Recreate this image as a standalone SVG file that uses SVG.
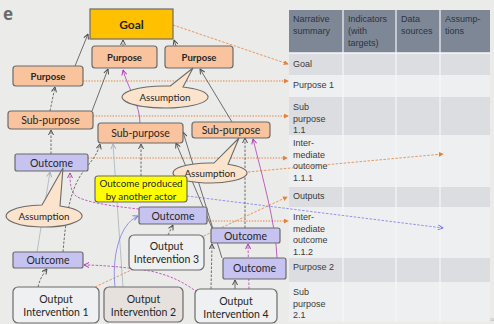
<svg xmlns="http://www.w3.org/2000/svg" width="494" height="324" viewBox="0 0 494 324">
  <defs>
    <style>
      .box { stroke: #6b6b6b; stroke-width: 1.2; }
      .goal { fill: #ffc000; }
      .peach { fill: #f9c39d; }
      .lav { fill: #c6c3f1; }
      .out { fill: #eef0f2; }
      .out2 { fill: #e6e1dd; }
      .yel { fill: #ffff00; }
      .asm { fill: #fce3cb; stroke: #6b6b6b; stroke-width: 1.1; }
      .lbl { font-family: Lato, "Open Sans", "Liberation Sans", sans-serif; fill: #262626; text-anchor: middle; }
      .b { font-weight: bold; }
      .tbl { font-family: "Liberation Sans", Arial, sans-serif; font-size: 9px; fill: #3a3a3a; }
      .th { fill: #2e3440; }
      .c { fill: none; stroke-width: 0.8; }
      .dk { stroke: #4d4d4d; marker-end: url(#ad); }
      .lg { stroke: #aab2ba; marker-end: url(#ag); }
      .mg { stroke: #b33db3; marker-end: url(#am); }
      .bl { stroke: #7a7aee; marker-end: url(#ab); }
      .or { stroke: #e8803a; marker-end: url(#ao); }
      .dash { stroke-dasharray: 2.5 1.5; }
      .dot { stroke-dasharray: 1.4 1.4; stroke-width: 1.2; }
    </style>
    <marker id="ad" viewBox="0 0 6 6" refX="5.5" refY="3" markerWidth="6" markerHeight="6" orient="auto" markerUnits="userSpaceOnUse">
      <path d="M0.5,0.5 L5.5,3 L0.5,5.5" fill="none" stroke="#4d4d4d" stroke-width="1"/>
    </marker>
    <marker id="ag" viewBox="0 0 6 6" refX="5.5" refY="3" markerWidth="6" markerHeight="6" orient="auto" markerUnits="userSpaceOnUse">
      <path d="M0.5,0.5 L5.5,3 L0.5,5.5" fill="none" stroke="#aab2ba" stroke-width="1"/>
    </marker>
    <marker id="am" viewBox="0 0 6 6" refX="5.5" refY="3" markerWidth="6" markerHeight="6" orient="auto" markerUnits="userSpaceOnUse">
      <path d="M0.5,0.5 L5.5,3 L0.5,5.5" fill="none" stroke="#b33db3" stroke-width="1"/>
    </marker>
    <marker id="ab" viewBox="0 0 6 6" refX="5.5" refY="3" markerWidth="6" markerHeight="6" orient="auto" markerUnits="userSpaceOnUse">
      <path d="M0.5,0.5 L5.5,3 L0.5,5.5" fill="none" stroke="#7a7aee" stroke-width="1"/>
    </marker>
    <marker id="ao" viewBox="0 0 6 6" refX="5" refY="3" markerWidth="5" markerHeight="5" orient="auto" markerUnits="userSpaceOnUse">
      <path d="M0,0 L6,3 L0,6 Z" fill="#e8803a"/>
    </marker>
  </defs>

  <!-- page background -->
  <rect width="494" height="324" fill="#ebebea"/>
  <text x="3" y="20" font-family="'Open Sans', 'Liberation Sans', sans-serif" font-weight="bold" font-size="17" fill="#6a6a6a">e</text>

  <!-- logframe table -->
  <g id="table">
    <rect x="289" y="10" width="201" height="43" fill="#7d8796"/>
    <rect x="289" y="53" width="201" height="22" fill="#dcdde0"/>
    <rect x="289" y="75" width="201" height="22" fill="#eeeff1"/>
    <rect x="289" y="97" width="201" height="38" fill="#dcdde0"/>
    <rect x="289" y="135" width="201" height="52" fill="#eeeff1"/>
    <rect x="289" y="187" width="201" height="20" fill="#dcdde0"/>
    <rect x="289" y="207" width="201" height="51" fill="#eeeff1"/>
    <rect x="289" y="258" width="201" height="24" fill="#dcdde0"/>
    <rect x="289" y="282" width="201" height="40" fill="#eeeff1"/>
    <g stroke="#f7f7f7" stroke-width="1.2">
      <line x1="343" y1="10" x2="343" y2="322"/>
      <line x1="396" y1="10" x2="396" y2="322"/>
      <line x1="440" y1="10" x2="440" y2="322"/>
      <line x1="289" y1="53" x2="490" y2="53" stroke-width="1.6"/>
    </g>
    <g class="tbl th">
      <text x="293" y="22">Narrative</text>
      <text x="293" y="34">summary</text>
      <text x="348" y="22">Indicators</text>
      <text x="348" y="34">(with</text>
      <text x="348" y="46">targets)</text>
      <text x="401" y="22">Data</text>
      <text x="401" y="34">sources</text>
      <text x="445" y="22">Assump-</text>
      <text x="445" y="34">tions</text>
    </g>
    <g class="tbl">
      <text x="293" y="67">Goal</text>
      <text x="293" y="88">Purpose 1</text>
      <text x="293" y="110">Sub</text>
      <text x="293" y="121.5">purpose</text>
      <text x="293" y="133">1.1</text>
      <text x="293" y="146">Inter-</text>
      <text x="293" y="157.5">mediate</text>
      <text x="293" y="169">outcome</text>
      <text x="293" y="180.5">1.1.1</text>
      <text x="293" y="199">Outputs</text>
      <text x="293" y="220">Inter-</text>
      <text x="293" y="231.5">mediate</text>
      <text x="293" y="243">outcome</text>
      <text x="293" y="254.5">1.1.2</text>
      <text x="293" y="270">Purpose 2</text>
      <text x="293" y="295">Sub</text>
      <text x="293" y="306.5">purpose</text>
      <text x="293" y="318">2.1</text>
    </g>
    <text x="490" y="321" font-family="'Liberation Sans', sans-serif" font-size="3.5" fill="#9a9a9a">10</text>
  </g>

  <!-- connectors -->
  <g id="connectors">
    <!-- links to the table -->
    <path class="c or dash" d="M173,25 L288,64"/>
    <path class="c or dot" d="M83,81 L288,81"/>
    <path class="c or dot" d="M93,116 L288,116"/>
    <path class="c or dot" d="M88,158 L287,158"/>
    <path class="c or dash" d="M248,172 L443,154"/>
    <path class="c or dash" d="M95,287 L287,197"/>
    <path class="c or dot" d="M207,221 L288,221"/>
    <path class="c bl dash" d="M187,196 L443,228"/>

    <!-- causal chain -->
    <path class="c dk" d="M75,66 L88,34"/>
    <path class="c dk dash" d="M123,46 L123,40"/>
    <path class="c dk" d="M176,46 L174,40"/>
    <path class="c dk" d="M92,111 L108,69"/>
    <path class="c dk" d="M232,122 L200,69"/>
    <path class="c dk" d="M222,258 L183,132"/>
    <path class="c dk" d="M212,228 L176,143"/>
    <path class="c dk" d="M235,289 L235,280"/>
    <path class="c dk dash" d="M50,111 L55,87"/>
    <path class="c dk dash" d="M51,154 L51,130"/>
    <path class="c dk dash" d="M141,176 L141,144"/>
    <path class="c dk dash" d="M63,252 C66,215 70,195 78,180 C85,166 96,160 100,144"/>
    <path class="c dk dash" d="M168,235 L173,225"/>
    <path class="c dk dash" d="M38,287 C40,278 44,273 47,269"/>
    <path class="c dk dash" d="M211,289 L212,244"/>
    <path class="c dk dash" d="M245,228 L245,138"/>

    <path class="c lg" d="M123,287 L113,144"/>
    <path class="c lg" d="M37,252 L50,172"/>

    <path class="c mg" d="M140,123 C140,105 128,88 123,70"/>
    <path class="c mg" d="M277,258 C276,225 262,175 253,139"/>
    <path class="c mg dash" d="M249,289 L248,244"/>
    <path class="c mg dash" d="M139,209 C110,206 85,202 76,196 C71,192 70,185 70,173"/>
    <path class="c mg dash" d="M197,292 C185,283 170,275 150,271 C125,267 100,265 84,265"/>

    <path class="c bl" d="M115,287 C112,260 118,225 138,216"/>
  </g>

  <!-- nodes -->
  <g id="goal">
    <rect class="box goal" x="90" y="9" width="83" height="30"/>
    <text class="lbl b" x="131.5" y="29" font-size="12">Goal</text>
  </g>
  <g id="purpose-mid">
    <rect class="box peach" x="92" y="46" width="65" height="22" rx="3"/>
    <text class="lbl b" x="124.5" y="60.5" font-size="9.5">Purpose</text>
  </g>
  <g id="purpose-right">
    <rect class="box peach" x="165" y="46" width="68" height="22" rx="3"/>
    <text class="lbl b" x="199" y="60.5" font-size="9.5">Purpose</text>
  </g>
  <g id="purpose-left">
    <rect class="box peach" x="13" y="66" width="70" height="20" rx="3"/>
    <text class="lbl b" x="48" y="79.5" font-size="9.5">Purpose</text>
  </g>
  <g id="assumption-top">
    <path class="asm" d="M183,87 A43,11 0 1,1 170,86.07 L193,68 Z"/>
    <text class="lbl" x="165" y="101" font-size="9.8">Assumption</text>
  </g>
  <g id="subpurpose-left">
    <rect class="box peach" x="8" y="111" width="85" height="18" rx="3"/>
    <text class="lbl" x="50.5" y="124" font-size="10.5">Sub-purpose</text>
  </g>
  <g id="subpurpose-mid">
    <rect class="box peach" x="98" y="123" width="85" height="20" rx="3"/>
    <text class="lbl" x="140.5" y="137" font-size="10.5">Sub-purpose</text>
  </g>
  <g id="subpurpose-right">
    <rect class="box peach" x="192" y="122" width="78" height="16" rx="3"/>
    <text class="lbl" x="231" y="134" font-size="10.5">Sub-purpose</text>
  </g>
  <g id="outcome-left-upper">
    <rect class="box lav" x="15" y="154" width="73" height="17" rx="2"/>
    <text class="lbl" x="51.5" y="166.5" font-size="10.5">Outcome</text>
  </g>
  <g id="assumption-mid">
    <path class="asm" d="M228,164.26 A37,10 0 1,1 214,163.06 L239,138 Z"/>
    <text class="lbl" x="210" y="176.5" font-size="9.8">Assumption</text>
  </g>
  <g id="other-actor">
    <rect class="box yel" x="95" y="176" width="92" height="26" rx="3"/>
    <text class="lbl" x="141" y="186.5" font-size="9.8">Outcome produced</text>
    <text class="lbl" x="141" y="199.5" font-size="9.8">by another actor</text>
  </g>
  <g id="assumption-left">
    <path class="asm" d="M60,206.02 A38,11 0 1,1 42,205.02 L63,168 Z"/>
    <text class="lbl" x="44" y="219.5" font-size="9.8">Assumption</text>
  </g>
  <g id="outcome-mid">
    <rect class="box lav" x="139" y="207" width="68" height="17" rx="2"/>
    <text class="lbl" x="173" y="219.5" font-size="10.5">Outcome</text>
  </g>
  <g id="output-3">
    <rect class="box out" x="129" y="235" width="75" height="35" rx="5"/>
    <text class="lbl" x="166.5" y="250" font-size="10.5">Output</text>
    <text class="lbl" x="166.5" y="263" font-size="10.5">Intervention 3</text>
  </g>
  <g id="outcome-right-upper">
    <rect class="box lav" x="211" y="228" width="69" height="15" rx="2"/>
    <text class="lbl" x="245.5" y="239.5" font-size="10.5">Outcome</text>
  </g>
  <g id="outcome-right-lower">
    <rect class="box lav" x="223" y="258" width="63" height="21" rx="2"/>
    <text class="lbl" x="254.5" y="272" font-size="10.5">Outcome</text>
  </g>
  <g id="outcome-left-lower">
    <rect class="box lav" x="13" y="252" width="70" height="16" rx="2"/>
    <text class="lbl" x="48" y="264" font-size="10.5">Outcome</text>
  </g>
  <g id="output-1">
    <rect class="box out" x="13" y="287" width="86" height="36" rx="5"/>
    <text class="lbl" x="56" y="302.5" font-size="10.5">Output</text>
    <text class="lbl" x="56" y="315.5" font-size="10.5">Intervention 1</text>
  </g>
  <g id="output-2">
    <rect class="box out2" x="104" y="287" width="79" height="35" rx="5"/>
    <text class="lbl" x="143.5" y="302.5" font-size="10.5">Output</text>
    <text class="lbl" x="143.5" y="315.5" font-size="10.5">Intervention 2</text>
  </g>
  <g id="output-4">
    <rect class="box out" x="195" y="289" width="82" height="34" rx="5"/>
    <text class="lbl" x="236" y="305" font-size="10.5">Output</text>
    <text class="lbl" x="236" y="318" font-size="10.5">Intervention 4</text>
  </g>
</svg>
